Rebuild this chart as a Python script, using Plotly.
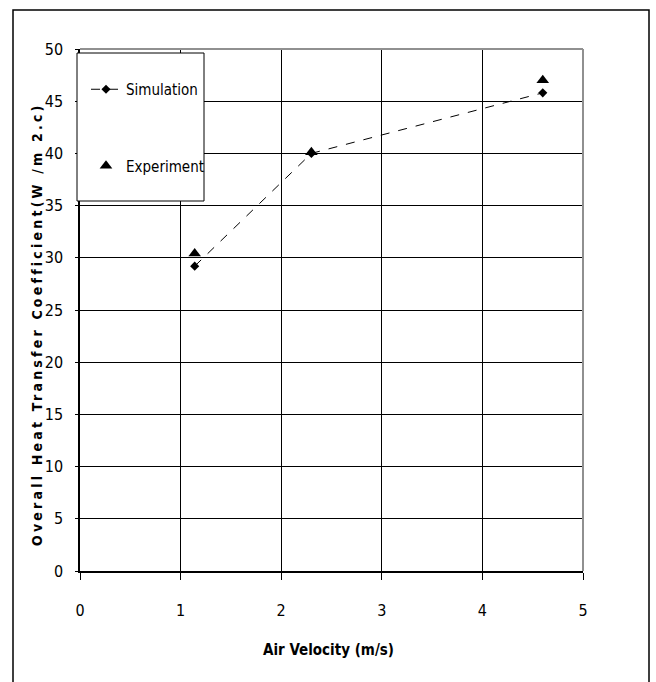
import plotly.graph_objects as go

air_velocity = [1.14, 2.30, 4.60]
simulation = [29.2, 40.0, 45.8]
experiment = [30.4, 40.1, 47.0]

x_ticks = [0, 1, 2, 3, 4, 5]
y_ticks = [0, 5, 10, 15, 20, 25, 30, 35, 40, 45, 50]

FONT = "DejaVu Sans Condensed, Liberation Sans Narrow, Arial Narrow, Liberation Sans, Arial"

fig = go.Figure()
fig.add_trace(go.Scatter(
    x=air_velocity, y=simulation, name="Simulation", mode="lines+markers",
    line=dict(color="black", width=1, dash="dash"),
    marker=dict(symbol="diamond", size=7, color="black"),
    legendgroup="a"))
fig.add_trace(go.Scatter(
    x=air_velocity, y=experiment, name="Experiment", mode="markers",
    marker=dict(symbol="triangle-up", size=11, color="black"),
    legendgroup="b"))

L, R, T, B = 80, 73, 49, 111
PW, PH = 656 - L - R, 682 - T - B

def px(xp):
    return (xp - L) / PW

def py(yp):
    return (682 - B - yp) / PH

fig.update_layout(
    width=656, height=682,
    margin=dict(l=L, r=R, t=T, b=B),
    paper_bgcolor="white", plot_bgcolor="white",
    font=dict(family=FONT, size=15, color="black"),
    showlegend=True,
    legend=dict(x=px(86), y=py(73), xanchor="left", yanchor="top",
                bgcolor="rgba(0,0,0,0)", borderwidth=0,
                tracegroupgap=54, font=dict(family=FONT, size=15)),
    xaxis=dict(range=[0, 5], tickvals=x_ticks, ticktext=[str(v) for v in x_ticks],
               showgrid=True, gridcolor="black", gridwidth=1,
               showline=True, linecolor="black", linewidth=1.5,
               ticks="outside", ticklen=7, tickcolor="black",
               ticklabelstandoff=17, zeroline=False,
               tickfont=dict(family=FONT, size=16)),
    yaxis=dict(range=[0, 50], tickvals=y_ticks, ticktext=[str(v) for v in y_ticks],
               showgrid=True, gridcolor="black", gridwidth=1,
               showline=True, linecolor="black", linewidth=1.5,
               ticks="outside", ticklen=3, tickcolor="black",
               ticklabelstandoff=9, zeroline=False,
               tickfont=dict(family=FONT, size=16)),
    shapes=[
        dict(type="line", xref="paper", yref="paper", x0=0, x1=1, y0=1, y1=1,
             line=dict(color="#909090", width=2)),
        dict(type="line", xref="paper", yref="paper", x0=1, x1=1, y0=0, y1=1,
             line=dict(color="#909090", width=2)),
        dict(type="rect", xref="paper", yref="paper", layer="above",
             x0=px(77), x1=px(204), y0=py(201), y1=py(53),
             fillcolor="white", line=dict(color="black", width=1)),
        dict(type="rect", xref="paper", yref="paper",
             x0=px(13), x1=px(649), y0=py(700), y1=py(10),
             line=dict(color="black", width=1.5)),
    ],
    annotations=[
        dict(text='<b><span style="letter-spacing:3.2px">Overall Heat Transfer Coefficient(W /m 2.c)</span></b>',
             xref="paper", yref="paper", x=px(37), y=py(324),
             xanchor="center", yanchor="middle",
             textangle=-90, showarrow=False, font=dict(family=FONT, size=14)),
        dict(text="<b>Air Velocity (m/s)</b>",
             xref="paper", yref="paper", x=px(328), y=py(650),
             xanchor="center", yanchor="middle",
             showarrow=False, font=dict(family=FONT, size=15)),
    ],
)

fig.write_html("out.html")
